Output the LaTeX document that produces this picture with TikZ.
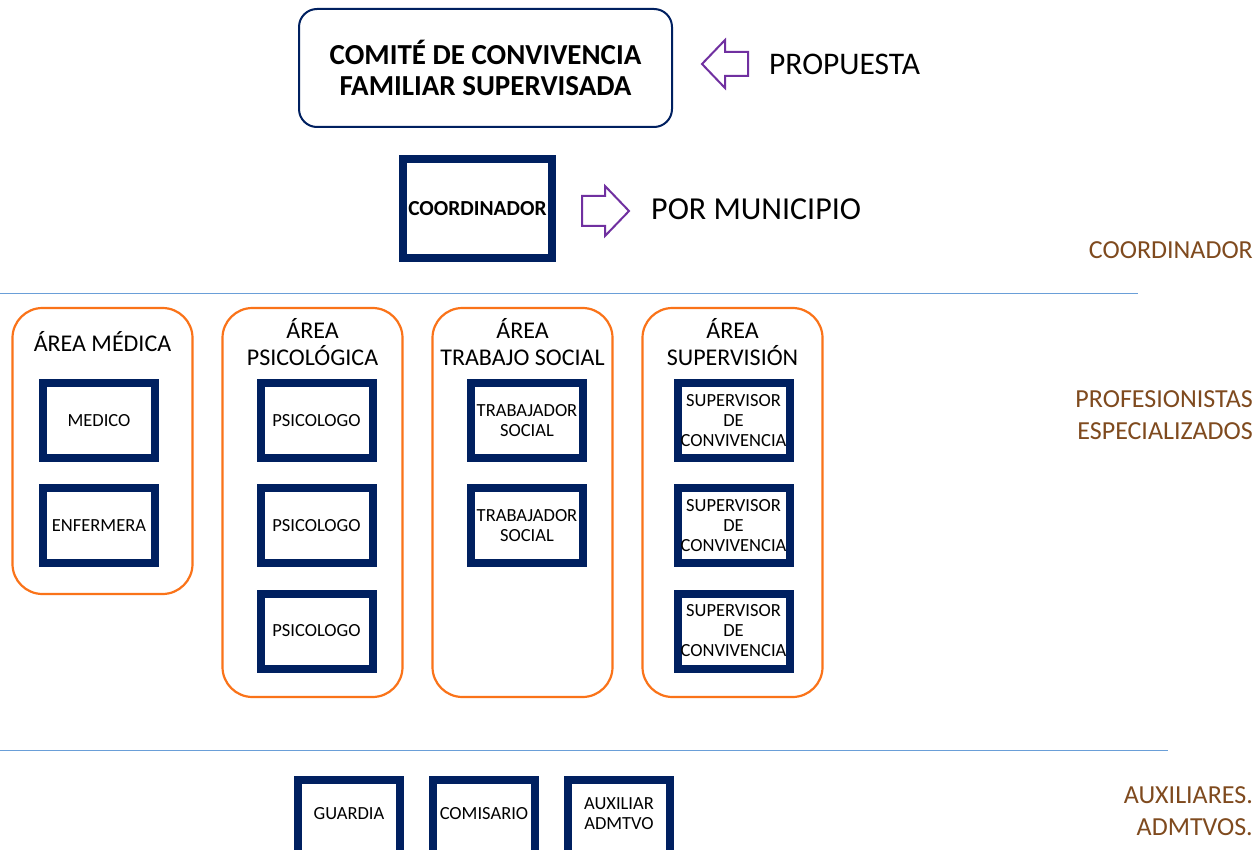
\documentclass[tikz,border=0pt]{standalone}
\usepackage{fontspec}
\setmainfont{Carlito}
\definecolor{navy}{HTML}{002060}
\definecolor{orng}{HTML}{FA7319}
\definecolor{purp}{HTML}{7030A0}
\definecolor{brwn}{HTML}{7F4A1E}
\definecolor{lblue}{HTML}{6A9FD8}
\tikzset{
  navybox/.style={draw=navy, line width=8pt, fill=white, minimum width=112pt, minimum height=75pt, inner sep=0pt, align=center, font=\fontsize{18.5}{20}\selectfont},
  bottomtext/.style={align=center, inner sep=0pt, font=\fontsize{18.5}{20}\selectfont},
  areabox/.style={draw=orng, line width=2.2pt, fill=white, rounded corners=30pt, minimum width=180pt, inner sep=0pt},
  areatitle/.style={align=center, font=\fontsize{24}{27}\selectfont, inner sep=0pt},
  sidelabel/.style={text=brwn, align=right, anchor=east, font=\fontsize{26}{32}\selectfont, inner sep=0pt},
  hollowarrow/.style={draw=purp, line width=2pt, fill=white, line join=miter},
  sepline/.style={draw=lblue, line width=1pt}
}
\begin{document}
\begin{tikzpicture}[x=1pt,y=-1pt]
\useasboundingbox (0,0) rectangle (1260,850);
\clip (0,0) rectangle (1260,850);
\fill[white] (0,0) rectangle (1260,850);
% top box
\node[draw=navy, line width=2pt, rounded corners=18pt, minimum width=373pt, minimum height=118pt, align=center, font=\bfseries\fontsize{29}{31}\selectfont] (comite) at (485.5,68) {COMITÉ DE CONVIVENCIA\\FAMILIAR SUPERVISADA};
\draw[hollowarrow] (702,64) -- (725,40) -- (725,52) -- (748,52) -- (748,76) -- (725,76) -- (725,88) -- cycle;
\node[anchor=west, inner sep=0pt, font=\fontsize{31.5}{34}\selectfont] (prop) at (769,64) {PROPUESTA};
% coordinador
\node[draw=navy, line width=8pt, minimum width=149pt, minimum height=99pt, inner sep=0pt, font=\bfseries\fontsize{21.4}{24}\selectfont] (coord) at (477.5,208.5) {COORDINADOR};
\draw[hollowarrow] (629,211) -- (605,186) -- (605,196) -- (582,196) -- (582,226) -- (605,226) -- (605,236) -- cycle;
\node[anchor=west, inner sep=0pt, font=\fontsize{32}{34}\selectfont] (mun) at (651,209) {POR MUNICIPIO};
% side labels
\node[sidelabel] (l1) at (1253,250) {COORDINADOR};
\node[sidelabel] (l2) at (1253,415) {PROFESIONISTAS\\ESPECIALIZADOS};
\node[sidelabel] (l3) at (1253,811) {AUXILIARES.\\ADMTVOS.};
% separator lines
\coordinate (s1a) at (0,293); \coordinate (s1b) at (1138,293);
\coordinate (s2a) at (0,750); \coordinate (s2b) at (1168,750);
\draw[sepline] (s1a) -- (s1b);
\draw[sepline] (s2a) -- (s2b);
% areas
\node[areabox, minimum height=286pt] (amed) at (102.5,451) {};
\node[areabox, minimum height=389pt] (apsi) at (312.5,502.5) {};
\node[areabox, minimum height=389pt] (ats) at (522.5,502.5) {};
\node[areabox, minimum height=389pt] (asup) at (732.5,502.5) {};
\node[areatitle] (tmed) at (102.5,342) {ÁREA MÉDICA};
\node[areatitle] (tpsi) at (312.5,342) {ÁREA\\PSICOLÓGICA};
\node[areatitle] (tts) at (522.5,342) {ÁREA\\TRABAJO SOCIAL};
\node[areatitle] (tsup) at (732.5,342) {ÁREA\\SUPERVISIÓN};
% boxes
\node[navybox] (med) at (99,420.5) {MEDICO};
\node[navybox] (enf) at (99,525.5) {ENFERMERA};
\node[navybox] (psi1) at (316.5,420.5) {PSICOLOGO};
\node[navybox] (psi2) at (316.5,525.5) {PSICOLOGO};
\node[navybox] (psi3) at (316.5,631) {PSICOLOGO};
\node[navybox] (ts1) at (527,420.5) {TRABAJADOR\\SOCIAL};
\node[navybox] (ts2) at (527,525.5) {TRABAJADOR\\SOCIAL};
\node[navybox] (sup1) at (733.5,420.5) {SUPERVISOR\\DE\\CONVIVENCIA};
\node[navybox] (sup2) at (733.5,525.5) {SUPERVISOR\\DE\\CONVIVENCIA};
\node[navybox] (sup3) at (733.5,631) {SUPERVISOR\\DE\\CONVIVENCIA};
% bottom
\node[navybox, minimum width=102pt] (guar) at (349,817.5) {};
\node[navybox, minimum width=102pt] (comi) at (484,817.5) {};
\node[navybox, minimum width=102pt] (aux) at (619,817.5) {};
\node[bottomtext] (tguar) at (349,813.5) {GUARDIA};
\node[bottomtext] (tcomi) at (484,813.5) {COMISARIO};
\node[bottomtext] (taux) at (619,813.5) {AUXILIAR\\ADMTVO};
\end{tikzpicture}
\end{document}
